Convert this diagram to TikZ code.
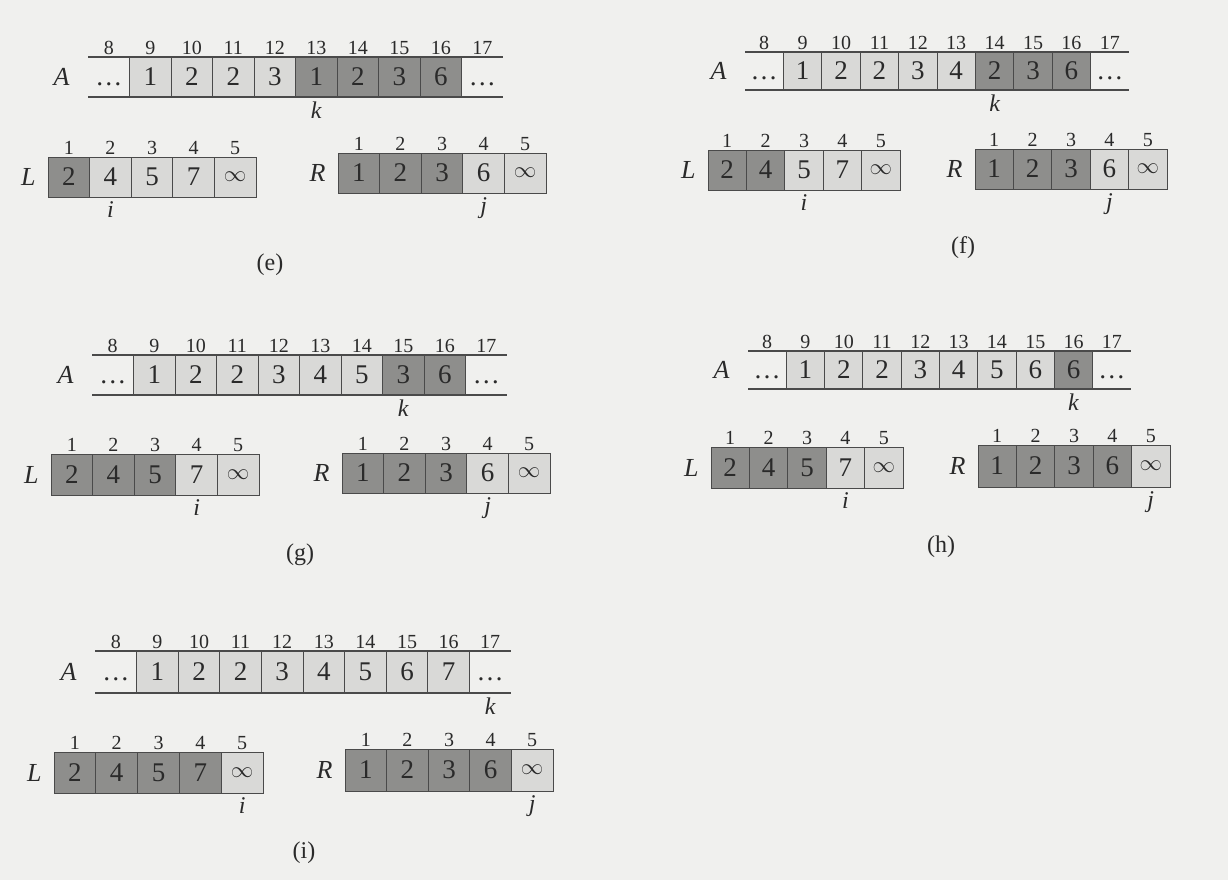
\documentclass[tikz,border=0pt]{standalone}
\usepackage{graphicx}
\usepackage{fontspec}
\setmainfont{Liberation Serif}
\usetikzlibrary{positioning}
\definecolor{paper}{HTML}{F0F0EE}
\definecolor{cellL}{HTML}{D9D9D7}
\definecolor{cellD}{HTML}{8E8E8C}
\definecolor{edge}{HTML}{4A4A4A}
\definecolor{ink}{HTML}{2A2A2A}
\tikzset{
  cellbox/.style={draw=edge,line width=0.5pt,inner sep=0pt,outer sep=0pt,font=\fontsize{13.5}{15}\selectfont,text=ink},
  litecell/.style={fill=cellL},
  darkcell/.style={fill=cellD},
  blank/.style={draw=none},
  idx/.style={font=\fontsize{10}{11}\selectfont,inner sep=1pt,text=ink},
  arrname/.style={font=\fontsize{13}{14}\selectfont\itshape,inner sep=1pt,text=ink},
  ptr/.style={font=\fontsize{12}{13}\selectfont\itshape,inner sep=1pt,text=ink},
  panelcap/.style={font=\fontsize{12}{13}\selectfont,text=ink},
  rule/.style={draw=edge,line width=0.6pt}
}
\newcommand{\celldots}{\vphantom{1}\dots}
\newcommand{\infsym}{\scalebox{0.78}{$\infty$}}
% one row of cells: name, first index, left, top, cell width, height, value/style list
\newcommand{\cellrow}[7]{%
  \foreach \v/\s [count=\c from 0] in {#7}{
    \pgfmathtruncatemacro\ix{#2+\c}
    \node[cellbox,\s,minimum width=#5*0.5pt,minimum height=#6*0.5pt,label={[idx]above:\ix}]
      (#1\ix) at ({#3+(\c+0.5)*#5},{#4+#6/2}) {\v};}}
\begin{document}
\begin{tikzpicture}[x=0.5pt,y=-0.5pt]
\useasboundingbox[fill=paper] (0,0) rectangle (1228,880);
% (e)
\cellrow{eA}{8}{88}{57}{41.5}{40}{\celldots/blank,1/litecell,2/litecell,2/litecell,3/litecell,1/darkcell,2/darkcell,3/darkcell,6/darkcell,\celldots/blank}
\draw[rule] (eA8.north west) -- (eA17.north east); \draw[rule] (eA8.south west) -- (eA17.south east);
\node[arrname,left=8pt of eA8] (eAname) {A};
\node[ptr,below=1pt of eA13] (ek) {k};
\cellrow{eL}{1}{48}{157}{41.6}{40}{2/darkcell,4/litecell,5/litecell,7/litecell,\infsym/litecell}
\node[arrname,left=5pt of eL1] (eLname) {L};
\node[ptr,below=1pt of eL2] (ei) {i};
\cellrow{eR}{1}{338}{153}{41.6}{40}{1/darkcell,2/darkcell,3/darkcell,6/litecell,\infsym/litecell}
\node[arrname,left=5pt of eR1] (eRname) {R};
\node[ptr,below=1pt of eR4] (ej) {j};
\node[panelcap] (ecap) at (270,265) {(e)};
% (f)
\cellrow{fA}{8}{745}{52}{38.4}{38}{\celldots/blank,1/litecell,2/litecell,2/litecell,3/litecell,4/litecell,2/darkcell,3/darkcell,6/darkcell,\celldots/blank}
\draw[rule] (fA8.north west) -- (fA17.north east); \draw[rule] (fA8.south west) -- (fA17.south east);
\node[arrname,left=8pt of fA8] (fAname) {A};
\node[ptr,below=1pt of fA14] (fk) {k};
\cellrow{fL}{1}{708}{150}{38.4}{40}{2/darkcell,4/darkcell,5/litecell,7/litecell,\infsym/litecell}
\node[arrname,left=5pt of fL1] (fLname) {L};
\node[ptr,below=1pt of fL3] (fi) {i};
\cellrow{fR}{1}{975}{149}{38.4}{40}{1/darkcell,2/darkcell,3/darkcell,6/litecell,\infsym/litecell}
\node[arrname,left=5pt of fR1] (fRname) {R};
\node[ptr,below=1pt of fR4] (fj) {j};
\node[panelcap] (fcap) at (963,248) {(f)};
% (g)
\cellrow{gA}{8}{92}{355}{41.5}{40}{\celldots/blank,1/litecell,2/litecell,2/litecell,3/litecell,4/litecell,5/litecell,3/darkcell,6/darkcell,\celldots/blank}
\draw[rule] (gA8.north west) -- (gA17.north east); \draw[rule] (gA8.south west) -- (gA17.south east);
\node[arrname,left=8pt of gA8] (gAname) {A};
\node[ptr,below=1pt of gA15] (gk) {k};
\cellrow{gL}{1}{51}{454}{41.6}{41}{2/darkcell,4/darkcell,5/darkcell,7/litecell,\infsym/litecell}
\node[arrname,left=5pt of gL1] (gLname) {L};
\node[ptr,below=1pt of gL4] (gi) {i};
\cellrow{gR}{1}{342}{453}{41.6}{40}{1/darkcell,2/darkcell,3/darkcell,6/litecell,\infsym/litecell}
\node[arrname,left=5pt of gR1] (gRname) {R};
\node[ptr,below=1pt of gR4] (gj) {j};
\node[panelcap] (gcap) at (300,555) {(g)};
% (h)
\cellrow{hA}{8}{748}{351}{38.3}{38}{\celldots/blank,1/litecell,2/litecell,2/litecell,3/litecell,4/litecell,5/litecell,6/litecell,6/darkcell,\celldots/blank}
\draw[rule] (hA8.north west) -- (hA17.north east); \draw[rule] (hA8.south west) -- (hA17.south east);
\node[arrname,left=8pt of hA8] (hAname) {A};
\node[ptr,below=1pt of hA16] (hk) {k};
\cellrow{hL}{1}{711}{447}{38.4}{41}{2/darkcell,4/darkcell,5/darkcell,7/litecell,\infsym/litecell}
\node[arrname,left=5pt of hL1] (hLname) {L};
\node[ptr,below=1pt of hL4] (hi) {i};
\cellrow{hR}{1}{978}{445}{38.4}{42}{1/darkcell,2/darkcell,3/darkcell,6/darkcell,\infsym/litecell}
\node[arrname,left=5pt of hR1] (hRname) {R};
\node[ptr,below=1pt of hR5] (hj) {j};
\node[panelcap] (hcap) at (941,547) {(h)};
% (i)
\cellrow{iA}{8}{95}{651}{41.6}{42}{\celldots/blank,1/litecell,2/litecell,2/litecell,3/litecell,4/litecell,5/litecell,6/litecell,7/litecell,\celldots/blank}
\draw[rule] (iA8.north west) -- (iA17.north east); \draw[rule] (iA8.south west) -- (iA17.south east);
\node[arrname,left=8pt of iA8] (iAname) {A};
\node[ptr,below=1pt of iA17] (ik) {k};
\cellrow{iL}{1}{54}{752}{41.8}{41}{2/darkcell,4/darkcell,5/darkcell,7/darkcell,\infsym/litecell}
\node[arrname,left=5pt of iL1] (iLname) {L};
\node[ptr,below=1pt of iL5] (ii) {i};
\cellrow{iR}{1}{345}{749}{41.6}{42}{1/darkcell,2/darkcell,3/darkcell,6/darkcell,\infsym/litecell}
\node[arrname,left=5pt of iR1] (iRname) {R};
\node[ptr,below=1pt of iR5] (ij) {j};
\node[panelcap] (icap) at (304,853) {(i)};
\end{tikzpicture}
\end{document}
